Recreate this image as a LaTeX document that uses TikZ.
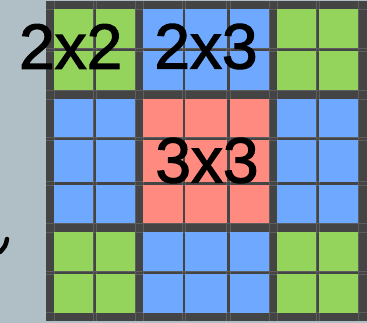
\documentclass[tikz,border=0pt]{standalone}
\usepackage{fontspec}
\setmainfont{Liberation Sans}
\newfontfamily\lblfont[FakeBold=1.8]{Liberation Sans}
\definecolor{bg}{HTML}{B0BEC5}
\definecolor{frame}{HTML}{444444}
\definecolor{gline}{HTML}{5E5E5E}
\definecolor{cgreen}{HTML}{94D35C}
\definecolor{cblue}{HTML}{6FA8FF}
\definecolor{cred}{HTML}{FF8A80}
\colorlet{c11}{cgreen}\colorlet{c12}{cblue}\colorlet{c13}{cgreen}
\colorlet{c21}{cblue}\colorlet{c22}{cred}\colorlet{c23}{cblue}
\colorlet{c31}{cgreen}\colorlet{c32}{cblue}\colorlet{c33}{cgreen}
\begin{document}
\begin{tikzpicture}[x=1pt,y=-1pt,
  lbl/.style={font=\lblfont\fontsize{64}{64}\selectfont, text=black, inner sep=0pt},
  gridline/.style={draw=gline, line width=0.8pt}]
\useasboundingbox (0,0) rectangle (367,323);
\fill[bg] (0,0) rectangle (367,323);
\fill[frame] (46,1) rectangle (367,320.7);
\foreach \y in {9,48.3,51,90,99,137.5,140.5,181.7,185,223.5,232,271,274.3,312.7}
  \draw[gridline] (46,\y) -- (367,\y);
\foreach \x in {54.3,93.3,96,135,143.3,182.7,185.3,226.7,230,269.3,277.3,316.3,319,358}
  \draw[gridline] (\x,1) -- (\x,320.7);
\foreach \xa/\xb/\cb in {54.3/93.3/1, 96/135/1, 143.3/182.7/2, 185.3/226.7/2, 230/269.3/2, 277.3/316.3/3, 319/358/3}
  \foreach \ya/\yb/\rb in {9/48.3/1, 51/90/1, 99/137.5/2, 140.5/181.7/2, 185/223.5/2, 232/271/3, 274.3/312.7/3}
    \fill[c\rb\cb] (\xa,\ya) rectangle (\xb,\yb);
\node[lbl] (t22) at (70.7,46.5) {2x2};
\node[lbl] (t23) at (206,46.5) {2x3};
\node[lbl] (t33) at (207,160.5) {3x3};
\draw[line width=4.5pt, line cap=round] (7,239) .. controls (5.5,246) .. (0,252);
\end{tikzpicture}
\end{document}
